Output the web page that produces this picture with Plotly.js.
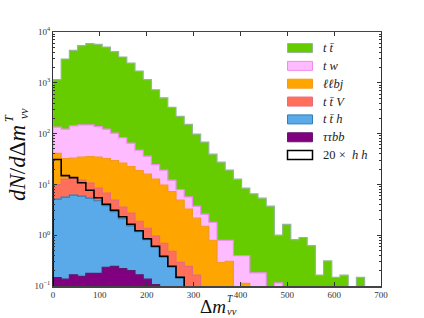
<!DOCTYPE html>
<html><head><meta charset="utf-8">
<script src="https://cdn.plot.ly/plotly-3.0.1.min.js"></script>
<style>html,body{margin:0;padding:0;background:#fff}#chart{width:424px;height:318px}</style>
</head><body><div id="chart"></div>
<script>
// ---- data; each array is the top of that layer of the stack ----
const binWidth = 17.5;
const xTicks = [0, 100, 200, 300, 400, 500, 600, 700];
const yTicks = [0.1, 1, 10, 100, 1000, 10000];
const yTickText = ["10<sup>−1</sup>", "10<sup>0</sup>", "10<sup>1</sup>", "10<sup>2</sup>", "10<sup>3</sup>", "10<sup>4</sup>"];
const legendLabels = ["<i>t t̄</i>", "<i>t w</i>", "<i>ℓℓbj</i>", "<i>t t̄ V</i>", "<i>t t̄ h</i>", "<i>ττbb</i>", "20 ×  <i>h h</i>"];

const stackTT = [1150, 2940, 4350, 5370, 5880, 5720, 5060, 4090, 3220, 2450, 1700, 1150, 729, 507, 328, 218, 152, 97.7, 68, 39.4,
                 27.4, 19.1, 12.7, 8.43, 6.51, 5.35, 3.72, 1.0, 1.64, 0.815, 0.90, 0.625, 0.164, 0.311, 0.148, 0.163, 0, 0.148, 0, 0];
const stackTW = [134, 122, 142, 148, 148, 137, 122, 102, 83.3, 64.9, 47.2, 36, 24.5, 19.1, 12.1, 7.87, 5.68, 3.72, 2.59, 1.80,
                 0.796, 0.796, 0.394, 0.394, 0.182, 0.182, 0, 0.115, 0, 0, 0, 0, 0, 0, 0, 0, 0, 0, 0, 0];
const stackLLBJ = [40.7, 32.1, 32.9, 34.4, 35.2, 34.4, 32.1, 29.3, 26.2, 22.3, 18.6, 15.9, 12.7, 9.66, 7.19, 4.89, 3.25, 2.16, 1.50, 0.796,
                   0.289, 0.307, 0, 0.113, 0, 0, 0, 0, 0, 0, 0, 0, 0, 0, 0, 0, 0, 0, 0, 0];
const stackTTV = [9.9, 12.7, 13.3, 12.1, 10.6, 8.43, 6.71, 4.89, 3.56, 2.71, 1.88, 1.37, 0.955, 0.695, 0.483, 0.293, 0.244, 0.163, 0, 0,
                  0, 0, 0, 0, 0, 0, 0, 0, 0, 0, 0, 0, 0, 0, 0, 0, 0, 0, 0, 0];
const stackTTH = [5.12, 5.60, 6.13, 5.86, 5.35, 4.77, 3.81, 2.90, 2.11, 1.53, 1.17, 0.815, 0.579, 0.368, 0.234, 0.148, 0, 0, 0, 0,
                  0, 0, 0, 0, 0, 0, 0, 0, 0, 0, 0, 0, 0, 0, 0, 0, 0, 0, 0, 0];
const stackTauTauBB = [0.147, 0.136, 0.166, 0.155, 0.178, 0.178, 0.234, 0.244, 0.220, 0.200, 0.166, 0.136, 0.107, 0, 0, 0, 0, 0, 0, 0,
                       0, 0, 0, 0, 0, 0, 0, 0, 0, 0, 0, 0, 0, 0, 0, 0, 0, 0, 0, 0];
const hh20 = [31.0, 14.9, 13.6, 10.8, 7.69, 5.47, 4.07, 3.10, 2.31, 1.64, 1.22, 0.851, 0.605, 0.385, 0.244, 0.148, 0, 0, 0, 0,
              0, 0, 0, 0, 0, 0, 0, 0, 0, 0, 0, 0, 0, 0, 0, 0, 0, 0, 0, 0];

// ---- styles ----
const layers = [
  {vals: stackTT,       fill: '#66cc00', edge: '#94b890'},
  {vals: stackTW,       fill: '#ffbbff', edge: '#f08af0'},
  {vals: stackLLBJ,     fill: '#ffa500', edge: '#f59a20'},
  {vals: stackTTV,      fill: '#ff6f5a', edge: '#e86a80'},
  {vals: stackTTH,      fill: '#5aaaea', edge: '#2f7fb8'},
  {vals: stackTauTauBB, fill: '#800080', edge: '#5e1a6e'}
];

const FLOOR = 1e-4; // empty bins sit below the visible log range
function stepPath(vals) {
  const x = [0], y = [FLOOR];
  for (let i = 0; i < vals.length; i++) { x.push(i * binWidth); y.push(vals[i] > 0 ? vals[i] : FLOOR); }
  const last = vals[vals.length - 1];
  x.push(vals.length * binWidth); y.push(last > 0 ? last : FLOOR);
  x.push(vals.length * binWidth); y.push(FLOOR);
  return {x, y};
}

const traces = layers.map(L => {
  const p = stepPath(L.vals);
  return {type: 'scatter', mode: 'lines', x: p.x, y: p.y, fill: 'toself', fillcolor: L.fill,
          line: {shape: 'hv', color: L.edge, width: 1.2}, hoverinfo: 'skip', showlegend: false};
});
const ph = stepPath(hh20);
traces.push({type: 'scatter', mode: 'lines', x: ph.x, y: ph.y, line: {shape: 'hv', color: '#000', width: 1.6},
             hoverinfo: 'skip', showlegend: false});

// ---- legend drawn as shapes + annotations (plot area: x 53..381 px, y 32..286 px) ----
const L0 = 53, PW = 328, T0 = 32, PH = 254;
const px = X => (X - L0) / PW, py = Y => (T0 + PH - Y) / PH;
const shapes = [], annotations = [];
const legStyles = layers.map(l => ({fill: l.fill, edge: l.edge})).concat([{fill: '#ffffff', edge: '#000000'}]);
legendLabels.forEach((lab, i) => {
  const yc = 48 + i * 17.85;
  const st = legStyles[i];
  shapes.push({type: 'rect', xref: 'paper', yref: 'paper', x0: px(287.5), x1: px(312.5), y0: py(yc + 4.5), y1: py(yc - 4.5),
               fillcolor: st.fill, line: {color: st.edge, width: i === 6 ? 1.5 : 1}, layer: 'above'});
  annotations.push({xref: 'paper', yref: 'paper', x: px(321), y: py(yc), xanchor: 'left', yanchor: 'middle',
                    text: lab, showarrow: false, font: {size: 12.5, color: '#222', family: 'Liberation Serif, DejaVu Serif, serif'}});
});

// axis titles
const tf = {family: 'Liberation Serif, DejaVu Serif, serif', color: '#111'};
annotations.push({xref: 'paper', yref: 'paper', x: px(227), y: py(318), xanchor: 'right', yanchor: 'bottom', borderpad: 0,
                  text: 'Δ<i>m</i>', showarrow: false, font: Object.assign({size: 19}, tf)});
annotations.push({xref: 'paper', yref: 'paper', x: px(226), y: py(304.5), xanchor: 'left', yanchor: 'bottom', borderpad: 0,
                  text: '<i>T</i>', showarrow: false, font: Object.assign({size: 9.5}, tf)});
annotations.push({xref: 'paper', yref: 'paper', x: px(226), y: py(318), xanchor: 'left', yanchor: 'bottom', borderpad: 0,
                  text: '<i>νν</i>', showarrow: false, font: Object.assign({size: 10.5}, tf)});

annotations.push({xref: 'paper', yref: 'paper', x: px(17), y: py(163), xanchor: 'center', yanchor: 'middle', textangle: -90,
                  text: '<i>dN</i>/<i>d</i>Δ<i>m</i>', showarrow: false, font: Object.assign({size: 23}, tf)});
annotations.push({xref: 'paper', yref: 'paper', x: px(9), y: py(118), xanchor: 'center', yanchor: 'middle', textangle: -90,
                  text: '<i>T</i>', showarrow: false, font: Object.assign({size: 12}, tf)});
annotations.push({xref: 'paper', yref: 'paper', x: px(24), y: py(114), xanchor: 'center', yanchor: 'middle', textangle: -90,
                  text: '<i>νν</i>', showarrow: false, font: Object.assign({size: 12}, tf)});

const layout = {
  width: 424, height: 318, margin: {l: 53, r: 43, t: 32, b: 32},
  paper_bgcolor: '#fff', plot_bgcolor: '#fff', showlegend: false,
  font: {family: 'Liberation Serif, DejaVu Serif, serif', size: 9, color: '#333'},
  xaxis: {range: [0, 700], tickvals: xTicks, ticktext: xTicks.map(String), ticks: 'inside', ticklen: 4, tickcolor: '#333',
          showline: true, linecolor: '#444', linewidth: 1.5, mirror: 'ticks', showgrid: false, zeroline: false,
          tickfont: {size: 9}, fixedrange: true},
  yaxis: {type: 'log', range: [-1, 4], tickvals: yTicks, ticktext: yTickText, ticks: 'inside', ticklen: 4, tickcolor: '#333',
          showline: true, linecolor: '#333', linewidth: 1, mirror: 'allticks', showgrid: false, zeroline: false,
          minor: {ticks: 'inside', ticklen: 2, tickcolor: '#333', showgrid: false, dtick: 'D1'},
          tickfont: {size: 9}, fixedrange: true},
  shapes, annotations
};

Plotly.newPlot('chart', traces, layout, {staticPlot: true, displayModeBar: false});
</script></body></html>
